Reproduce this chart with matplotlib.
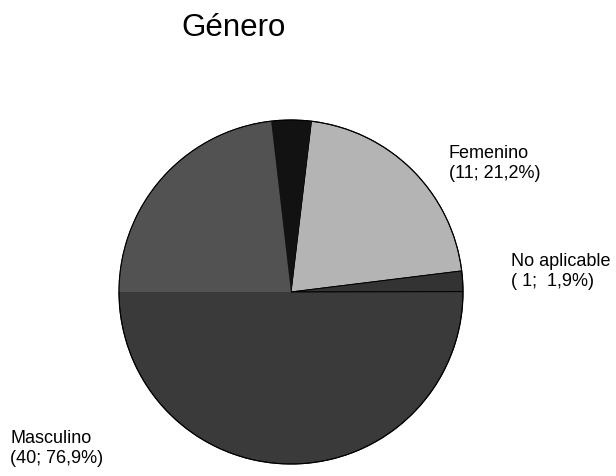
import matplotlib
matplotlib.use("Agg")
import matplotlib.pyplot as plt
from matplotlib.patches import Wedge

plt.rcParams['font.family'] = ['Liberation Sans', 'DejaVu Sans']

#Data
title = "Género"
labels = ["Femenino", "No aplicable", "Masculino"]
counts = [11, 1, 40]
percents = [21.2, 1.9, 76.9]
colors = ["#b4b4b4", "#333333", "#3a3a3a"]

fig = plt.figure(figsize=(6.16, 4.76), dpi=100)
ax = fig.add_axes([0, 0, 1, 1])

center = (291, 184)
radius = 172

wedges, _ = ax.pie(counts, colors=colors, startangle=83.2, counterclock=False,
                   center=center, radius=radius, frame=True,
                   wedgeprops=dict(edgecolor="black", linewidth=0.7))
ax.set_xlim(0, 616)
ax.set_ylim(0, 476)
ax.set_aspect("equal")
ax.axis("off")

#shading of the big slice (lighter top-left part and dark wedge at its end)
masc = wedges[2]
end = masc.theta1 % 360
ax.add_patch(Wedge(center, radius, end + 13.4, 180, facecolor="#525252", edgecolor="none"))
ax.add_patch(Wedge(center, radius, end, end + 13.4, facecolor="#121212", edgecolor="none"))
ax.add_patch(plt.Circle(center, radius, fill=False, edgecolor="black", linewidth=0.8))

#labels
label_pos = [(449, 476 - 145), (511, 476 - 253), (10, 476 - 430)]
for name, n, p, (x, y) in zip(labels, counts, percents, label_pos):
    txt = name + "\n(" + f"{n:2d}; {p:4.1f}%".replace(".", ",") + ")"
    ax.text(x, y, txt, fontsize=13, ha="left", va="top", color="black")

ax.text(234, 476 - 28, title, fontsize=22.5, ha="center", va="center", color="black")

fig.savefig("out.png", dpi=100)
